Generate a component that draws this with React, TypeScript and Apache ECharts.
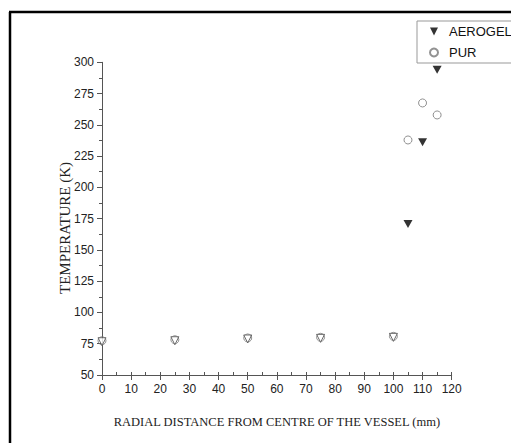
import React, { useEffect, useRef } from "react";
import * as echarts from "echarts";

const distances = [0, 25, 50, 75, 100, 105, 110, 115];
const aerogelTemps = [77.4, 78.2, 79.6, 80.1, 80.9, 170.7, 236, 294];
const purTemps = [77.4, 78.2, 79.6, 80.1, 80.9, 237.9, 267.5, 257.9];
const seriesNames = ["AEROGEL", "PUR"];
const xTitle = "RADIAL DISTANCE FROM CENTRE OF THE VESSEL (mm)";
const yTitle = "TEMPERATURE (K)";

const TRI = "path://M0,0L10,0L5,10Z";

export default function App() {
  const ref = useRef<HTMLDivElement>(null);
  useEffect(() => {
    if (!ref.current) return;
    const chart = echarts.init(ref.current, undefined, { renderer: "svg" });
    const aeroData = distances.map((d, i) => {
      const item: any = { value: [d, aerogelTemps[i]] };
      if (aerogelTemps[i] < 100) {
        item.itemStyle = { color: "#fff", borderColor: "#444", borderWidth: 1 };
        item.symbolSize = [8, 8];
        item.symbolOffset = [0, 1];
      }
      return item;
    });
    const purData = distances.map((d, i) => [d, purTemps[i]]);
    const axisFont = {
      fontFamily: "Liberation Sans Narrow, Liberation Sans, Arial, sans-serif",
      fontSize: 12,
      color: "#222",
    };
    chart.setOption({
      animation: false,
      backgroundColor: "#fff",
      grid: { left: 102, right: 59.3, top: 62.3, bottom: 68, containLabel: false },
      legend: {
        left: 417,
        top: 21,
        orient: "vertical",
        data: seriesNames,
        itemWidth: 8,
        itemHeight: 8,
        itemGap: 8,
        padding: [4, 30, 4, 12],
        borderColor: "#999",
        borderWidth: 1,
        borderRadius: 0,
        textStyle: {
          fontFamily: "Liberation Sans, Arial, sans-serif",
          fontSize: 13,
          color: "#111",
          padding: [0, 0, 0, 6],
        },
      },
      xAxis: [
        {
          type: "value",
          min: 0,
          max: 120,
          interval: 10,
          name: xTitle,
          nameLocation: "middle",
          nameGap: 40,
          nameTextStyle: { fontFamily: "Liberation Serif, Times New Roman, serif", fontSize: 12.5, color: "#222" },
          axisLine: { show: true, lineStyle: { color: "#555", width: 1 } },
          axisTick: { show: true, inside: false, length: 5, lineStyle: { color: "#555" } },
          axisLabel: { ...axisFont, margin: 8 },
          splitLine: { show: false },
        },
        {
          type: "value",
          position: "bottom",
          min: 0,
          max: 120,
          interval: 5,
          axisLine: { show: false },
          axisTick: { show: true, inside: true, length: 3, lineStyle: { color: "#555" } },
          axisLabel: { show: false },
          splitLine: { show: false },
        },
      ],
      yAxis: {
        type: "value",
        min: 50,
        max: 300,
        interval: 25,
        axisLine: { show: true, lineStyle: { color: "#555", width: 1 } },
        axisTick: { show: true, length: 5, lineStyle: { color: "#555" } },
        minorTick: { show: true, splitNumber: 2, length: 3, lineStyle: { color: "#555" } },
        axisLabel: { ...axisFont, margin: 8 },
        splitLine: { show: false },
      },
      graphic: [
        { type: "line", shape: { x1: 10, y1: 12, x2: 10, y2: 443 }, style: { stroke: "#000", lineWidth: 2.5 }, z: 100 },
        { type: "line", shape: { x1: 9, y1: 12, x2: 511, y2: 12 }, style: { stroke: "#000", lineWidth: 2.5 }, z: 100 },
        {
          type: "text",
          x: 65,
          y: 228,
          rotation: Math.PI / 2,
          style: {
            text: yTitle,
            fontFamily: "Liberation Serif, Times New Roman, serif",
            fontSize: 15,
            fill: "#222",
            align: "center",
            verticalAlign: "middle",
          },
        },
      ],
      series: [
        {
          name: seriesNames[0],
          type: "scatter",
          symbol: TRI,
          symbolSize: [9, 8],
          itemStyle: { color: "#000" },
          data: aeroData,
          z: 2,
        },
        {
          name: seriesNames[1],
          type: "scatter",
          symbol: "circle",
          symbolSize: 8,
          itemStyle: { color: "rgba(255,255,255,0)", borderColor: "#777", borderWidth: 1 },
          data: purData,
          z: 3,
        },
      ],
    });
    return () => chart.dispose();
  }, []);
  return <div ref={ref} style={{ position: "fixed", left: 0, top: 0, width: 511, height: 443 }} />;
}
